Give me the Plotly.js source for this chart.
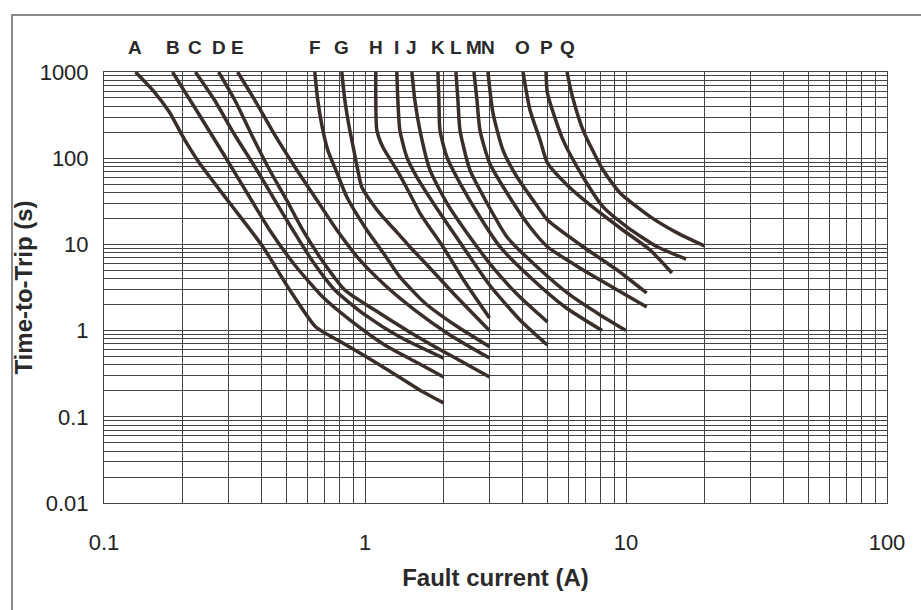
<!DOCTYPE html>
<html>
<head>
<meta charset="utf-8">
<script src="https://cdn.plot.ly/plotly-3.0.1.min.js"></script>
<style>
html,body{margin:0;padding:0;background:#fff;}
#wrap{position:relative;width:921px;height:610px;overflow:hidden;}
#chart{width:921px;height:610px;}
#frame{position:absolute;left:11px;top:14px;width:940px;height:640px;border-left:2px solid #8a8a8a;border-top:2px solid #8a8a8a;pointer-events:none;}
</style>
</head>
<body>
<div id="wrap"><div id="chart"></div><div id="frame"></div></div>
<script>
// Curve labels
const curveLabels = ["A","B","C","D","E","F","G","H","I","J","K","L","M","N","O","P","Q"];

// Fault current (A) and time-to-trip (s) for each curve
const I_A = [0.132,0.156,0.178,0.202,0.232,0.303,0.406,0.515,0.648,0.822,1.14,1.62,2.0];
const T_A = [1000,586,343,171,88,30.2,9.4,2.96,1.10,0.72,0.40,0.205,0.145];
const I_B = [0.183,0.232,0.290,0.361,0.431,0.538,0.689,0.875,1.19,1.62,2.0];
const T_B = [1000,317,106,35.5,14.7,5.77,2.45,1.33,0.68,0.41,0.29];
const I_C = [0.224,0.265,0.317,0.385,0.451,0.529,0.625,0.766,1.0,1.36,2.0];
const T_C = [1000,473,186,73,32.7,14.7,6.6,2.96,1.52,0.843,0.48];
const I_D = [0.275,0.317,0.368,0.431,0.501,0.577,0.683,0.837,1.09,1.485,2.115,3.0];
const T_D = [1000,473,186,73,32.7,14.7,6.6,2.96,1.73,0.96,0.52,0.29];
const I_E = [0.325,0.378,0.451,0.548,0.654,0.780,0.955,1.19,1.552,2.115,3.0];
const T_E = [1000,473,186,73,32.7,14.7,6.6,3.38,1.73,0.89,0.48];
const I_F = [0.642,0.659,0.683,0.720,0.773,0.852,1.016,1.19,1.36,1.696,2.21,3.0];
const T_F = [1000,473,243,124,73,35.5,14.7,7.54,4.19,2.09,1.16,0.65];
const I_G = [0.815,0.837,0.867,0.906,0.938,0.972,1.062,1.17,1.324,1.485,1.773,2.21,3.0];
const T_G = [1000,473,243,124,73,46.3,30.2,20.8,13.9,9.4,5.33,2.59,1.0];
const I_H = [1.10,1.10,1.11,1.17,1.324,1.459,1.623,1.988,2.415,3.0];
const T_H = [1000,473,212,135,73,42.8,23.1,9.4,3.66,1.40];
const I_I = [1.324,1.336,1.36,1.446,1.58,1.937,2.373,3.0,3.925,5.0];
const T_I = [1000,473,212,103,60.5,23.1,9.4,3.38,1.33,0.68];
const I_J = [1.512,1.552,1.623,1.773,2.06,2.523,3.147,3.925,5.0];
const T_J = [1000,473,212,73,30.2,12.2,5.05,2.45,1.26];
const I_K = [1.903,1.919,1.937,2.06,2.311,2.757,3.289,4.287,5.839,8.1];
const T_K = [1000,473,212,103,51.5,20.8,9.4,4.19,1.88,1.0];
const I_L = [2.23,2.27,2.311,2.523,2.933,3.499,4.481,6.102,7.958,10.0];
const T_L = [1000,473,212,73,30.2,12.2,5.77,2.59,1.52,1.0];
const I_M = [2.615,2.685,2.757,3.0,3.499,4.287,5.0,6.378,7.958,12.0];
const T_M = [1000,473,212,88,39.5,15.9,9.4,5.77,3.86,1.88];
const I_N = [2.959,3.092,3.377,3.823,4.684,5.0,6.845,9.25,12.0];
const T_N = [1000,335,124,60.5,25.1,19.2,9.4,5.05,2.73];
const I_O = [4.03,4.287,4.684,5.0,5.943,7.281,9.49,12.37,15.0];
const T_O = [1000,362,163,88,48.9,28.7,15.5,8.6,4.66];
const I_P = [4.939,5.0,5.737,6.845,8.17,10.1,13.16,17.0];
const T_P = [1000,570,163,60.5,27.2,15.9,9.4,6.77];
const I_Q = [5.943,6.211,6.845,8.17,9.49,12.37,15.71,20.0];
const T_Q = [1000,541,212,73,39.5,21.0,13.6,9.58];

// Axis ticks
const xTickVals = [0.1,1,10,100];
const xTickText = ["0.1","1","10","100"];
const yTickVals = [0.01,0.1,1,10,100,1000];
const yTickText = ["0.01","0.1","1","10","100","1000"];

const currents = [I_A,I_B,I_C,I_D,I_E,I_F,I_G,I_H,I_I,I_J,I_K,I_L,I_M,I_N,I_O,I_P,I_Q];
const times = [T_A,T_B,T_C,T_D,T_E,T_F,T_G,T_H,T_I,T_J,T_K,T_L,T_M,T_N,T_O,T_P,T_Q];

const curveColor = "#3a2e2a";
const traces = curveLabels.map((lab, i) => ({
  type: "scatter",
  mode: "lines",
  name: lab,
  x: currents[i],
  y: times[i],
  line: {color: curveColor, width: 3.5, shape: "spline", smoothing: 0.6},
  hoverinfo: "name+x+y"
}));

const annotations = curveLabels.map((lab, i) => ({
  text: "<b>" + lab + "</b>",
  x: Math.log10(currents[i][0]),
  xref: "x",
  y: 1,
  yref: "paper",
  yshift: 25,
  yanchor: "middle",
  xanchor: "center",
  showarrow: false,
  font: {family: "Liberation Sans, Arial, sans-serif", size: 19, color: "#2a2a2a"}
}));

const gridColor = "#444444";
const layout = {
  width: 921,
  height: 610,
  margin: {l: 104, r: 34, t: 72, b: 107},
  paper_bgcolor: "#ffffff",
  plot_bgcolor: "#ffffff",
  showlegend: false,
  font: {family: "Liberation Sans, Arial, sans-serif", color: "#222"},
  xaxis: {
    type: "log",
    range: [-1, 2],
    tickvals: xTickVals,
    ticktext: xTickText,
    ticks: "",
    ticklabelstandoff: 20,
    tickfont: {size: 22, color: "#222"},
    showgrid: true,
    gridcolor: gridColor,
    gridwidth: 1,
    minor: {dtick: "D1", showgrid: true, gridcolor: gridColor, gridwidth: 1, ticks: ""},
    showline: true, mirror: true, linecolor: "#444", linewidth: 1,
    zeroline: false,
    title: {text: "Fault current (A)", standoff: 14, font: {size: 24, weight: 700, color: "#2a2a2a"}}
  },
  yaxis: {
    type: "log",
    range: [-2, 3],
    tickvals: yTickVals,
    ticktext: yTickText,
    ticks: "",
    ticklabelstandoff: 10,
    tickfont: {size: 22, color: "#222"},
    showgrid: true,
    gridcolor: gridColor,
    gridwidth: 1,
    minor: {dtick: "D1", showgrid: true, gridcolor: gridColor, gridwidth: 1, ticks: ""},
    showline: true, mirror: true, linecolor: "#444", linewidth: 1,
    zeroline: false,
    title: {text: "Time-to-Trip (s)", standoff: 0, font: {size: 24, weight: 700, color: "#2a2a2a"}}
  },
  annotations: annotations
};

Plotly.newPlot("chart", traces, layout, {displayModeBar: false, staticPlot: true});
</script>
</body>
</html>
